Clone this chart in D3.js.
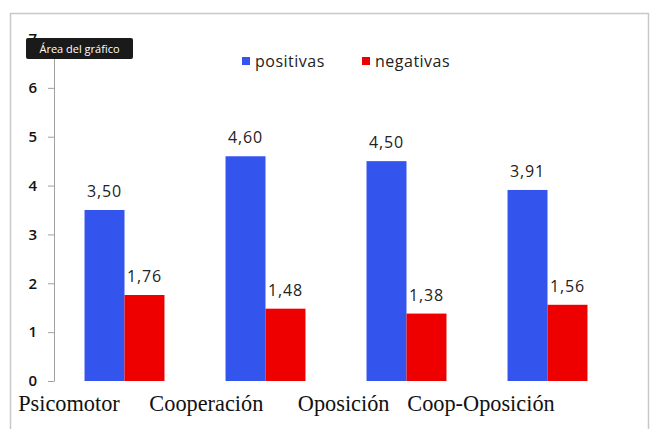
<!DOCTYPE html>
<html>
<head>
<meta charset="utf-8">
<script src="https://cdn.jsdelivr.net/npm/d3@7"></script>
<style>
  body { margin: 0; background: #fff; }
</style>
</head>
<body>
<div id="chart"></div>
<script>
// data
const categories = ['Psicomotor', 'Cooperación', 'Oposición', 'Coop-Oposición'];
const seriesNames = ['positivas', 'negativas'];
const positivas = [3.50, 4.60, 4.50, 3.91];
const negativas = [1.76, 1.48, 1.38, 1.56];
const yTicks = [0, 1, 2, 3, 4, 5, 6, 7];
const colors = { positivas: '#3355ee', negativas: '#ee0000' };

const W = 654, H = 429;
const margin = { top: 39, right: 36, bottom: 48, left: 54 };
const width = W - margin.left - margin.right;
const height = H - margin.top - margin.bottom;

const root = d3.select('#chart')
    .append('svg')
    .attr('width', W)
    .attr('height', H);

// outer frame
root.append('rect')
    .attr('x', 10.5).attr('y', 13.5)
    .attr('width', 638).attr('height', 440)
    .attr('fill', '#fff')
    .attr('stroke', '#c8c8c8')
    .attr('stroke-width', 1.5);

const svg = root.append('g')
    .attr('transform', `translate(${margin.left}, ${margin.top})`);

const rows = categories.map((c, i) => ({ cat: c, positivas: positivas[i], negativas: negativas[i] }));

// scales
const x0 = d3.scaleBand()
    .domain(categories)
    .range([0, width])
    .paddingInner(0.433)
    .paddingOuter(0.2165);
const x1 = d3.scaleBand()
    .domain(seriesNames)
    .range([0, x0.bandwidth()]);
const y = d3.scaleLinear()
    .domain([0, 7])
    .range([height, 0]);
// category labels sit a bit left of the bar groups
const xLabel = d3.scalePoint()
    .domain(categories)
    .range([15, width - 137]);

// y axis
const yAxis = svg.append('g')
    .call(d3.axisLeft(y).tickValues(yTicks).tickFormat(d3.format('d'))
        .tickSize(6).tickSizeOuter(0).tickPadding(11));
yAxis.select('.domain').attr('stroke', '#a0a0a0');
yAxis.selectAll('.tick line').attr('stroke', '#a0a0a0');
yAxis.selectAll('.tick text')
    .attr('font-family', 'Open Sans, sans-serif')
    .attr('font-size', 15)
    .attr('font-weight', 600)
    .attr('fill', '#111');

// bars
const groups = svg.selectAll('.grp')
    .data(rows)
    .enter()
    .append('g')
    .attr('transform', d => `translate(${x0(d.cat)}, 0)`);

groups.selectAll('rect')
    .data(d => seriesNames.map(k => ({ key: k, value: d[k] })))
    .enter()
    .append('rect')
    .attr('x', d => x1(d.key))
    .attr('y', d => y(d.value))
    .attr('width', x1.bandwidth())
    .attr('height', d => height - y(d.value))
    .attr('fill', d => colors[d.key]);

groups.selectAll('.lbl')
    .data(d => seriesNames.map(k => ({ key: k, value: d[k] })))
    .enter()
    .append('text')
    .attr('x', d => x1(d.key) + x1.bandwidth() / 2)
    .attr('y', d => y(d.value) - 13)
    .attr('text-anchor', 'middle')
    .attr('font-family', 'Open Sans, sans-serif')
    .attr('font-size', 16)
    .attr('letter-spacing', 0.8)
    .attr('fill', '#222')
    .text(d => d.value.toFixed(2).replace('.', ','));

// category labels (serif, slightly condensed)
svg.selectAll('.cat')
    .data(categories)
    .enter()
    .append('text')
    .attr('transform', d => `translate(${xLabel(d)}, ${height + 30}) scale(0.93, 1)`)
    .attr('text-anchor', 'middle')
    .attr('font-family', 'Liberation Serif, Times New Roman, serif')
    .attr('font-size', 24)
    .attr('fill', '#111')
    .text(d => d);

// legend
const legend = root.append('g')
    .attr('transform', 'translate(242, 57)');
const legItems = legend.selectAll('g')
    .data(seriesNames)
    .enter()
    .append('g')
    .attr('transform', (d, i) => `translate(${i * 120}, 0)`);
legItems.append('rect')
    .attr('width', 8).attr('height', 8)
    .attr('fill', d => colors[d]);
legItems.append('text')
    .attr('x', 13).attr('y', 10)
    .attr('font-family', 'Open Sans, sans-serif')
    .attr('font-size', 16)
    .attr('letter-spacing', 0.5)
    .attr('fill', '#222')
    .text(d => d);

// tooltip box
const tip = root.append('g').attr('transform', 'translate(26, 38)');
tip.append('rect')
    .attr('width', 107).attr('height', 21)
    .attr('rx', 2)
    .attr('fill', '#1a1a1a');
tip.append('text')
    .attr('x', 53.5).attr('y', 14.5)
    .attr('text-anchor', 'middle')
    .attr('font-family', 'Open Sans, sans-serif')
    .attr('font-size', 11)
    .attr('fill', '#fff')
    .text('Área del gráfico');
</script>
</body>
</html>
